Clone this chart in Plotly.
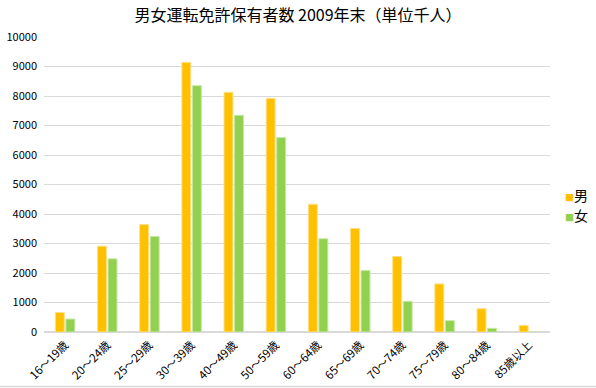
import plotly.graph_objects as go

categories = ["16～19歳", "20～24歳", "25～29歳", "30～39歳", "40～49歳", "50～59歳",
              "60～64歳", "65～69歳", "70～74歳", "75～79歳", "80～84歳", "85歳以上"]
male = [660, 2910, 3640, 9140, 8125, 7920, 4330, 3510, 2560, 1630, 790, 225]
female = [440, 2480, 3240, 8350, 7345, 6590, 3160, 2085, 1040, 385, 125, 0]
y_ticks = [0, 1000, 2000, 3000, 4000, 5000, 6000, 7000, 8000, 9000, 10000]
series_names = ["男", "女"]
series_colors = ["#FFC000", "#92D050"]
edge_colors = ["#FFE08A", "#C6E8A6"]

FONT = "Noto Sans CJK JP"

fig = go.Figure()
for name, vals, col, edge in zip(series_names, [male, female], series_colors, edge_colors):
    fig.add_trace(go.Bar(name=name, x=categories, y=vals, showlegend=False,
                         marker=dict(color=col, line=dict(color=edge, width=1))))

fig.update_layout(
    width=596, height=388,
    margin=dict(l=44, r=46, t=37, b=56),
    paper_bgcolor="white", plot_bgcolor="white",
    barmode="group", bargap=0.5, bargroupgap=0.15,
    font=dict(family=FONT, color="#404040", size=11),
    title=dict(text="男女運転免許保有者数 2009年末（単位千人）", x=0.5, xanchor="center",
               y=0.961, yanchor="middle", font=dict(size=16, color="#000000", family=FONT)),
    showlegend=False,
)
fig.update_yaxes(range=[0, 10000], tickvals=y_ticks, ticktext=[str(v) for v in y_ticks],
                 showgrid=True, gridcolor="#D9D9D9",
                 gridwidth=1, zeroline=True, zerolinecolor="#D9D9D9", showline=False,
                 ticklabelstandoff=6, tickfont=dict(size=11, color="#000000"), automargin=False)
fig.update_xaxes(tickangle=-45, showline=False, tickfont=dict(size=11.5, color="#000000"),
                 ticklabelstandoff=3, automargin=False)
fig.add_shape(type="line", xref="paper", yref="paper", x0=-0.2, x1=1.2,
              y0=-0.1845, y1=-0.1845, line=dict(color="#D9D9D9", width=1.5))

legend_y = [0.465, 0.398]
for name, col, ly in zip(series_names, series_colors, legend_y):
    fig.add_annotation(xref="paper", yref="paper", x=1.025, y=ly, xanchor="left",
                       yanchor="middle", showarrow=False,
                       text=f"<span style='color:{col};font-size:9px'>■</span>{name}",
                       font=dict(size=14, color="#000000", family=FONT))

fig.write_html("out.html", config={"displayModeBar": False},
               post_script="document.body.style.margin='0';document.body.style.padding='0';")
